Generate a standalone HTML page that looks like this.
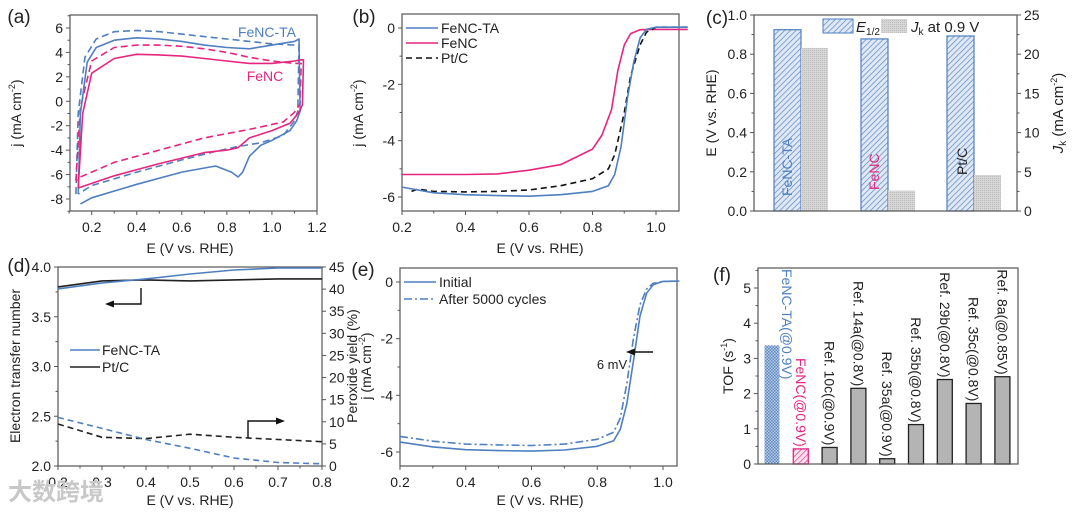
<!DOCTYPE html>
<html><head><meta charset="utf-8"><style>
html,body{margin:0;padding:0;background:#fff;}
svg{display:block;font-family:"Liberation Sans","Noto Sans CJK SC",sans-serif;}
</style></head><body>
<svg id="fig" width="1080" height="513" viewBox="0 0 1080 513" xmlns="http://www.w3.org/2000/svg">
<defs>
<pattern id="hatchBlue" patternUnits="userSpaceOnUse" width="4" height="4" patternTransform="rotate(45)"><rect width="4" height="4" fill="#dfe8f4"/><line x1="0" y1="0" x2="0" y2="4" stroke="#5b87c0" stroke-width="1.4"/></pattern>
<pattern id="hatchPink" patternUnits="userSpaceOnUse" width="4" height="4" patternTransform="rotate(45)"><rect width="4" height="4" fill="#fbe0ee"/><line x1="0" y1="0" x2="0" y2="4" stroke="#e8398c" stroke-width="1.4"/></pattern>
<pattern id="checkBlue" patternUnits="userSpaceOnUse" width="3" height="3"><rect width="3" height="3" fill="#b9cde8"/><rect width="1.5" height="1.5" fill="#5b87c0"/><rect x="1.5" y="1.5" width="1.5" height="1.5" fill="#5b87c0"/></pattern>
<pattern id="dotGray" patternUnits="userSpaceOnUse" width="2" height="2"><rect width="2" height="2" fill="#d6d6d6"/><rect width="1" height="1" fill="#bdbdbd"/></pattern>
</defs>
<g id="root"></g>
</svg>
<script>
// ---------- DATA ----------
// (a) CV
const cvTaSolidE=[0.14,0.15,0.18,0.22,0.3,0.4,0.5,0.6,0.7,0.8,0.9,1.0,1.1,1.12,1.125,1.11,1.08,1.0,0.95,0.9,0.87,0.85,0.82,0.75,0.6,0.4,0.2,0.15];
const cvTaSolidJ=[-7.6,-1.0,3.2,4.4,5.0,5.2,5.1,4.9,4.6,4.4,4.3,4.6,4.9,5.1,-0.8,-1.6,-2.4,-3.2,-3.6,-4.5,-5.8,-6.2,-5.8,-5.3,-5.8,-6.8,-7.9,-8.4];
const cvTaDashE=[0.13,0.14,0.17,0.22,0.3,0.4,0.5,0.6,0.7,0.8,0.9,1.0,1.1,1.12,1.115,1.1,1.05,0.95,0.85,0.75,0.6,0.4,0.2,0.14];
const cvTaDashJ=[-7.6,-1.0,3.6,5.1,5.7,5.8,5.7,5.5,5.3,5.1,4.9,4.7,4.6,4.6,-0.8,-1.6,-2.8,-3.4,-3.7,-4.1,-4.8,-5.8,-6.9,-7.6];
const cvFeSolidE=[0.14,0.16,0.2,0.3,0.4,0.5,0.6,0.7,0.8,0.9,1.0,1.1,1.13,1.14,1.135,1.12,1.08,1.0,0.9,0.85,0.8,0.7,0.5,0.3,0.14];
const cvFeSolidJ=[-7.1,-1.0,2.3,3.5,3.85,3.8,3.7,3.5,3.3,3.1,3.1,3.3,3.4,3.4,-0.3,-0.9,-1.8,-2.4,-3.0,-3.8,-4.0,-4.2,-5.1,-6.1,-7.1];
const cvFeDashE=[0.13,0.15,0.2,0.3,0.4,0.5,0.6,0.7,0.8,0.9,1.0,1.1,1.13,1.125,1.1,1.05,0.9,0.7,0.5,0.3,0.15,0.13];
const cvFeDashJ=[-6.5,-0.5,3.3,4.4,4.6,4.6,4.5,4.3,4.0,3.6,3.3,3.1,3.1,-0.2,-0.9,-1.7,-2.3,-3.0,-4.0,-5.0,-6.2,-6.5];
// (b) LSV
const lsvTaE=[0.2,0.3,0.4,0.5,0.6,0.7,0.8,0.85,0.87,0.89,0.91,0.93,0.95,0.97,1.0,1.1];
const lsvTaJ=[-5.65,-5.85,-5.92,-5.95,-5.97,-5.92,-5.8,-5.6,-5.2,-4.2,-2.5,-1.2,-0.35,-0.05,0.03,0.03];
const lsvFeE=[0.2,0.3,0.4,0.5,0.6,0.7,0.8,0.83,0.86,0.88,0.9,0.92,0.95,1.0,1.1];
const lsvFeJ=[-5.2,-5.2,-5.2,-5.18,-5.05,-4.85,-4.3,-3.8,-2.9,-1.5,-0.6,-0.2,-0.06,-0.05,-0.05];
const lsvPtE=[0.23,0.25,0.3,0.4,0.5,0.6,0.7,0.8,0.85,0.87,0.9,0.92,0.95,0.97,1.0,1.1];
const lsvPtJ=[-5.8,-5.72,-5.8,-5.82,-5.8,-5.75,-5.6,-5.35,-5.0,-4.5,-3.0,-1.7,-0.6,-0.15,0.03,0.03];
// (c) bars
const cCats=["FeNC-TA","FeNC","Pt/C"];
const cE12=[0.925,0.878,0.893];
const cJk=[20.8,2.6,4.6];
// (d)
const dE=[0.2,0.3,0.4,0.5,0.6,0.7,0.8];
const dnTa=[3.78,3.84,3.88,3.93,3.97,3.99,3.99];
const dnPt=[3.80,3.86,3.87,3.86,3.87,3.88,3.88];
const dpTa=[11,8.5,6,4,1.8,0.8,0.5];
const dpPt=[9.5,6.5,6.2,7.2,6.5,6,5.5];
// (e)
const eE=[0.2,0.3,0.4,0.5,0.6,0.7,0.8,0.85,0.87,0.89,0.91,0.93,0.95,0.97,1.0,1.05];
const eInit=[-5.65,-5.82,-5.92,-5.95,-5.97,-5.93,-5.8,-5.6,-5.2,-4.3,-2.8,-1.2,-0.4,-0.1,0.02,0.03];
const eAfter=[-5.45,-5.62,-5.72,-5.75,-5.77,-5.72,-5.55,-5.3,-4.8,-3.6,-2.0,-0.8,-0.25,-0.05,0.02,0.03];
// (f)
const fLabels=["FeNC-TA(@0.9V)","FeNC(@0.9V)","Ref. 10c(@0.9V)","Ref. 14a(@0.8V)","Ref. 35a(@0.9V)","Ref. 35b(@0.8V)","Ref. 29b(@0.8V)","Ref. 35c(@0.8V)","Ref. 8a(@0.85V)"];
const fTof=[3.37,0.43,0.47,2.15,0.15,1.12,2.4,1.72,2.48];

// ---------- HELPERS ----------
const NS="http://www.w3.org/2000/svg";
const root=document.getElementById('root');
const BLUE="#4f7fc0", PINK="#e6257f";
function mk(tag,attrs,parent){const e=document.createElementNS(NS,tag);for(const k in attrs)e.setAttribute(k,attrs[k]);(parent||root).appendChild(e);return e;}
function txt(x,y,s,size,attrs,parent){const t=mk('text',Object.assign({x:x,y:y,'font-size':size,fill:'#222'},attrs||{}),parent);t.textContent=s;return t;}
function lin(a0,a1,p0,p1){return v=>p0+(v-a0)*(p1-p0)/(a1-a0);}
function pathD(xs,ys,X,Y){return xs.map((v,i)=>(i?'L':'M')+X(v).toFixed(1)+','+Y(ys[i]).toFixed(1)).join('');}
function frame(x0,y0,x1,y1,name){const r=mk('rect',{x:x0,y:y0,width:x1-x0,height:y1-y0,fill:'none',stroke:'#555','stroke-width':1.2});}
function xTicks(X,y,vals,labels,minors,name){const g=mk('g',{});
 vals.forEach((v,i)=>{mk('line',{x1:X(v),x2:X(v),y1:y,y2:y+4,stroke:'#555'},g);txt(X(v),y+21,labels[i],14,{'text-anchor':'middle'},g);});
 (minors||[]).forEach(v=>mk('line',{x1:X(v),x2:X(v),y1:y,y2:y+2.5,stroke:'#555'},g));}
function yTicks(Y,x,vals,labels,minors,name,right){const g=mk('g',{});const d=right?1:-1;
 vals.forEach((v,i)=>{mk('line',{x1:x,x2:x+4*d,y1:Y(v),y2:Y(v),stroke:'#555'},g);txt(x+7*d,Y(v)+5,labels[i],14,{'text-anchor':right?'start':'end'},g);});
 (minors||[]).forEach(v=>mk('line',{x1:x,x2:x+2.5*d,y1:Y(v),y2:Y(v),stroke:'#555'},g));}
function rtitle(x,y,s,name,size){const t=txt(x,y,'',size||14,{'text-anchor':'middle',transform:`rotate(-90 ${x} ${y})`});t.innerHTML=s;return t;}
function ttl(x,y,s,name,size,attrs){const t=txt(x,y,s,size||14,Object.assign({'text-anchor':'middle'},attrs||{}));return t;}
function curve(xs,ys,X,Y,color,dash,name,w){const p=mk('path',{d:pathD(xs,ys,X,Y),fill:'none',stroke:color,'stroke-width':w||1.6,'stroke-dasharray':dash||'none','stroke-linejoin':'round'});return p;}
function range(a,b,s){const r=[];for(let v=a;v<=b+1e-9;v+=s)r.push(+v.toFixed(4));return r;}

// ---------- (a) ----------
{const X=lin(0.2,1.2,91.7,317),Y=lin(6,-8,28,199);
frame(70,15,317,211,'panel-a-frame');
xTicks(X,211,[0.2,0.4,0.6,0.8,1.0,1.2],["0.2","0.4","0.6","0.8","1.0","1.2"],range(0.1,1.1,0.2),'panel-a-x-ticks');
yTicks(Y,70,[6,4,2,0,-2,-4,-6,-8],["6","4","2","0","-2","-4","-6","-8"],range(-9,7,2),'panel-a-y-ticks');
curve(cvTaDashE,cvTaDashJ,X,Y,BLUE,'7,4','cv-fenc-ta-dashed');
curve(cvFeDashE,cvFeDashJ,X,Y,PINK,'7,4','cv-fenc-dashed');
curve(cvTaSolidE,cvTaSolidJ,X,Y,BLUE,null,'cv-fenc-ta-solid');
curve(cvFeSolidE,cvFeSolidJ,X,Y,PINK,null,'cv-fenc-solid');
ttl(267,37,'FeNC-TA','cv-label-fenc-ta',14,{fill:BLUE});
ttl(265,81,'FeNC','cv-label-fenc',14,{fill:PINK});
ttl(190,253,'E (V vs. RHE)','panel-a-x-title');
rtitle(21,113,'j (mA cm<tspan font-size="9" dy="-6">-2</tspan><tspan dy="6">)</tspan>','panel-a-y-title');
ttl(19,23,'(a)','panel-a-label',19);}

// ---------- (b) ----------
{const X=lin(0.2,1.0,402,656),Y=lin(0,-6,28,197);
frame(402,14,679,211,'panel-b-frame');
xTicks(X,211,[0.2,0.4,0.6,0.8,1.0],["0.2","0.4","0.6","0.8","1.0"],range(0.3,0.9,0.2),'panel-b-x-ticks');
yTicks(Y,402,[0,-2,-4,-6],["0","-2","-4","-6"],[-1,-3,-5],'panel-b-y-ticks');
curve(lsvFeE,lsvFeJ,X,Y,PINK,null,'lsv-fenc');
curve(lsvPtE,lsvPtJ,X,Y,'#111','6,4','lsv-ptc');
curve(lsvTaE,lsvTaJ,X,Y,BLUE,null,'lsv-fenc-ta');
const L=[["FeNC-TA",BLUE,null],["FeNC",PINK,null],["Pt/C","#111","6,4"]];
L.forEach((l,i)=>{const g=mk('g',{});
 mk('line',{x1:406,x2:438,y1:28+i*15,y2:28+i*15,stroke:l[1],'stroke-width':1.6,'stroke-dasharray':l[2]||'none'},g);txt(441,33+i*15,l[0],14,{},g);});
ttl(540,253,'E (V vs. RHE)','panel-b-x-title');
rtitle(363,113,'j (mA cm<tspan font-size="9" dy="-6">-2</tspan><tspan dy="6">)</tspan>','panel-b-y-title');
ttl(364,23,'(b)','panel-b-label',19);}

// ---------- (c) ----------
{const Y=lin(0,1,211,15),Y2=lin(0,25,211,15);
const gx=[774,861,947],bw=27;
cCats.forEach((c,i)=>{const r=mk('rect',{x:gx[i],y:Y(cE12[i]),width:bw,height:211-Y(cE12[i]),fill:'url(#hatchBlue)',stroke:BLUE,'stroke-width':1.2});
 
 const r2=mk('rect',{x:gx[i]+bw,y:Y2(cJk[i]),width:bw,height:211-Y2(cJk[i]),fill:'url(#dotGray)'});
 });
const cl=[[BLUE,787,196],[PINK,874,190],['#222',962,175]];
cCats.forEach((c,i)=>{const t=txt(cl[i][1]+5,cl[i][2],c,14,{fill:cl[i][0],transform:`rotate(-90 ${cl[i][1]+5} ${cl[i][2]})`});});
frame(754,15,1017,211,'panel-c-frame');
yTicks(Y,754,[0,0.2,0.4,0.6,0.8,1.0],["0.0","0.2","0.4","0.6","0.8","1.0"],range(0.1,0.9,0.2),'panel-c-left-ticks');
yTicks(Y2,1017,[0,5,10,15,20,25],["0","5","10","15","20","25"],range(2.5,22.5,5),'panel-c-right-ticks',true);
const lg=mk('g',{});
mk('rect',{x:823,y:19,width:30,height:14,fill:'url(#hatchBlue)',stroke:BLUE},lg);
const t1=txt(856,32,'',15,{},lg);t1.innerHTML='<tspan font-style="italic">E</tspan><tspan font-size="10" dy="3">1/2</tspan>';
mk('rect',{x:881,y:19,width:26,height:14,fill:'url(#dotGray)'},lg);
const t2=txt(911,32,'',15,{},lg);t2.innerHTML='<tspan font-style="italic">J</tspan><tspan font-size="10" dy="3">k</tspan><tspan dy="-3"> at 0.9 V</tspan>';
rtitle(716,113,'E (V vs. RHE)','panel-c-left-title');
rtitle(1063,113,'<tspan font-style="italic">J</tspan><tspan font-size="10" dy="3">k</tspan><tspan dy="-3"> (mA cm</tspan><tspan font-size="9" dy="-6">-2</tspan><tspan dy="6">)</tspan>','panel-c-right-title',15);
ttl(717,24,'(c)','panel-c-label',19);}

// ---------- (d) ----------
{const X=lin(0.2,0.8,58,322),Y=lin(2,4,466,267),Y2=lin(0,45,466,267);
frame(58,267,322,466,'panel-d-frame');
xTicks(X,466,[0.2,0.3,0.4,0.5,0.6,0.7,0.8],["0.2","0.3","0.4","0.5","0.6","0.7","0.8"],range(0.25,0.75,0.1),'panel-d-x-ticks');
yTicks(Y,58,[2.0,2.5,3.0,3.5,4.0],["2.0","2.5","3.0","3.5","4.0"],range(2.25,3.75,0.5),'panel-d-left-ticks');
yTicks(Y2,322,[0,5,10,15,20,25,30,35,40,45],["0","5","10","15","20","25","30","35","40","45"],[],'panel-d-right-ticks',true);
curve(dE,dnPt,X,Y,'#222',null,'n-ptc');
curve(dE,dnTa,X,Y,BLUE,null,'n-fenc-ta');
curve(dE,dpPt,X,Y2,'#222','6,4','peroxide-ptc');
curve(dE,dpTa,X,Y2,BLUE,'6,4','peroxide-fenc-ta');
const a1=mk('g',{});
mk('path',{d:'M141,288 L141,304 L112,304',fill:'none',stroke:'#111','stroke-width':1.4},a1);mk('path',{d:'M105,304 L114,300.5 L114,307.5Z',fill:'#111'},a1);
const a2=mk('g',{});
mk('path',{d:'M248,438 L248,421 L278,421',fill:'none',stroke:'#111','stroke-width':1.4},a2);mk('path',{d:'M285,421 L276,417.5 L276,424.5Z',fill:'#111'},a2);
[["FeNC-TA",BLUE],["Pt/C","#222"]].forEach((l,i)=>{const g=mk('g',{});
 mk('line',{x1:70,x2:100,y1:350+i*17,y2:350+i*17,stroke:l[1],'stroke-width':1.6},g);txt(102,355+i*17,l[0],14,{},g);});
ttl(190,505,'E (V vs. RHE)','panel-d-x-title');
rtitle(20,366,'Electron transfer number','panel-d-left-title');
rtitle(357,366,'Peroxide yield (%)','panel-d-right-title');
rtitle(371,366,'j (mA cm<tspan font-size="9" dy="-6">-2</tspan><tspan dy="6">)</tspan>','panel-e-y-title');
ttl(19,272,'(d)','panel-d-label',19);
const w=txt(8,500,'大数跨境',24,{fill:'#c8c8c8','font-weight':'bold'});}

// ---------- (e) ----------
{const X=lin(0.2,1.0,400,663),Y=lin(0,-6,282,452);
frame(400,268,677,466,'panel-e-frame');
xTicks(X,466,[0.2,0.4,0.6,0.8,1.0],["0.2","0.4","0.6","0.8","1.0"],range(0.3,0.9,0.2),'panel-e-x-ticks');
yTicks(Y,400,[0,-2,-4,-6],["0","-2","-4","-6"],[-1,-3,-5],'panel-e-y-ticks');
curve(eE,eAfter,X,Y,BLUE,'8,3,2,3','lsv-after-5000');
curve(eE,eInit,X,Y,BLUE,null,'lsv-initial');
[["Initial",null],["After 5000 cycles","8,3,2,3"]].forEach((l,i)=>{const g=mk('g',{});
 mk('line',{x1:404,x2:436,y1:282+i*17,y2:282+i*17,stroke:BLUE,'stroke-width':1.6,'stroke-dasharray':l[1]||'none'},g);txt(439,287+i*17,l[0],14,{},g);});
const ar=mk('g',{});
mk('line',{x1:653,x2:634,y1:352,y2:352,stroke:'#111','stroke-width':1.4},ar);mk('path',{d:'M626,352 L635,348.5 L635,355.5Z',fill:'#111'},ar);
ttl(612,369,'6 mV','shift-label',13);
ttl(540,505,'E (V vs. RHE)','panel-e-x-title');
ttl(363,276,'(e)','panel-e-label',19);}

// ---------- (f) ----------
{const Y=lin(0,5,464,288);const x0=772,dx=28.8,bw=15;
fTof.forEach((v,i)=>{const cx=x0+i*dx;const fill=i==0?'url(#checkBlue)':i==1?'url(#hatchPink)':'#b4b4b4';const st=i==0?'none':i==1?PINK:'#222';
 const r=mk('rect',{x:cx-bw/2,y:Y(v),width:bw,height:464-Y(v),fill:fill,stroke:st,'stroke-width':1.3});
 
 const col=i==0?BLUE:i==1?PINK:'#222';
 let tx,ty,anchor;
 if(i==0){tx=cx+10;ty=269;anchor='start';} else {tx=cx-5;ty=Y(v)-2;anchor='end';}
 const t=txt(tx,ty,fLabels[i],14,{fill:col,'text-anchor':anchor,transform:`rotate(90 ${tx} ${ty})`});
 });
frame(758,268,1018,464,'panel-f-frame');
yTicks(Y,758,[0,1,2,3,4,5],["0","1","2","3","4","5"],range(0.5,5.5,1),'panel-f-y-ticks');
rtitle(733,366,'TOF (s<tspan font-size="9" dy="-6">-1</tspan><tspan dy="6">)</tspan>','panel-f-y-title');
ttl(722,281,'(f)','panel-f-label',19);}
</script>
</body></html>
